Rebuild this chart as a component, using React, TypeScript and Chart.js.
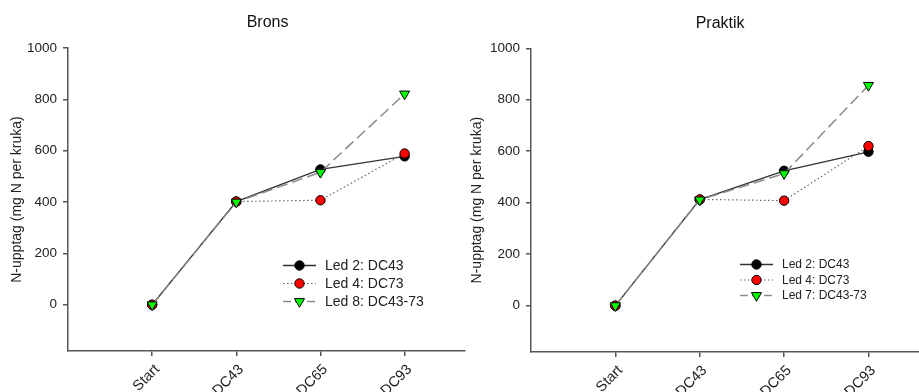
import React, { useEffect, useRef } from "react";
import { Chart, registerables } from "chart.js";

Chart.register(...registerables);

const CATEGORIES = ["Start", "DC43", "DC65", "DC93"];
const Y_TICKS = [0, 200, 400, 600, 800, 1000];

const BRONS_LED2 = [0, 402, 527, 578];
const BRONS_LED4 = [0, 402, 407, 589];
const BRONS_LED8 = [0, 400, 516, 821];

const PRAKTIK_LED2 = [0, 412, 524, 598];
const PRAKTIK_LED4 = [0, 413, 408, 620];
const PRAKTIK_LED7 = [0, 411, 513, 856];

const LEFT_LABELS = ["Led 2: DC43", "Led 4: DC73", "Led 8: DC43-73"];
const RIGHT_LABELS = ["Led 2: DC43", "Led 4: DC73", "Led 7: DC43-73"];

const FONT = "'Liberation Sans', Arial, sans-serif";

type LegendCfg = { x1: number; x2: number; textX: number; rows: number[]; size: number; titleShift: number };

const STYLES = [
  { line: "#333333", dash: [] as number[], width: 1.3, fill: "#000000", shape: "circle" },
  { line: "#6a6a6a", dash: [1.5, 2.5], width: 1.2, fill: "#ff0000", shape: "circle" },
  { line: "#8a8a8a", dash: [11, 5], width: 1.5, fill: "#00ff00", shape: "triangle" },
];

function drawMarker(ctx: CanvasRenderingContext2D, shape: string, x: number, y: number, fill: string) {
  ctx.save();
  ctx.setLineDash([]);
  ctx.fillStyle = fill;
  ctx.strokeStyle = "#000";
  ctx.lineWidth = 1;
  ctx.beginPath();
  if (shape === "circle") {
    ctx.arc(x, y, 4.7, 0, Math.PI * 2);
  } else {
    const r = 5.8;
    ctx.moveTo(x, y + r);
    ctx.lineTo(x - r * Math.sin(Math.PI / 3), y - r / 2);
    ctx.lineTo(x + r * Math.sin(Math.PI / 3), y - r / 2);
    ctx.closePath();
  }
  ctx.fill();
  ctx.stroke();
  ctx.restore();
}

const legendPlugin = {
  id: "insideLegend",
  afterLayout(chart: any) {
    const cfg: LegendCfg = chart.options.plugins.insideLegend;
    const t = chart.titleBlock;
    if (cfg && t && cfg.titleShift) {
      t.left += cfg.titleShift;
      t.right += cfg.titleShift;
    }
  },
  afterDatasetsDraw(chart: any) {
    const cfg: LegendCfg = chart.options.plugins.insideLegend;
    if (!cfg) return;
    const ctx: CanvasRenderingContext2D = chart.ctx;
    chart.data.datasets.forEach((ds: any, i: number) => {
      const st = STYLES[i];
      const y = cfg.rows[i];
      ctx.save();
      ctx.strokeStyle = st.line;
      ctx.lineWidth = st.width;
      ctx.setLineDash(i === 2 ? [8, 4] : st.dash);
      ctx.beginPath();
      ctx.moveTo(cfg.x1, y);
      ctx.lineTo(cfg.x2, y);
      ctx.stroke();
      ctx.restore();
      drawMarker(ctx, st.shape, (cfg.x1 + cfg.x2) / 2, y, st.fill);
      ctx.save();
      ctx.fillStyle = "#222";
      ctx.font = `${cfg.size}px ${FONT}`;
      ctx.textBaseline = "middle";
      ctx.textAlign = "left";
      ctx.fillText(ds.label, cfg.textX, y + 0.5);
      ctx.restore();
    });
  },
};

function makeConfig(
  title: string,
  series: number[][],
  labels: string[],
  geo: { yWidth: number; xHeight: number; titleTop: number; titleBottom: number; yTitlePad: number; xMax: number },
  legend: LegendCfg
): any {
  const datasets = series.map((vals, i) => {
    const st = STYLES[i];
    return {
      label: labels[i],
      data: vals.map((v, j) => ({ x: j, y: v })),
      borderColor: st.line,
      borderWidth: st.width,
      borderDash: st.dash,
      backgroundColor: st.fill,
      pointBackgroundColor: st.fill,
      pointBorderColor: "#000",
      pointBorderWidth: 1,
      pointStyle: st.shape,
      pointRadius: st.shape === "triangle" ? 5.8 : 4.7,
      pointRotation: st.shape === "triangle" ? 180 : 0,
      tension: 0,
      fill: false,
      order: 2 - i,
    };
  });
  return {
    type: "line",
    data: { datasets },
    plugins: [legendPlugin],
    options: {
      animation: false,
      responsive: false,
      events: [],
      layout: { padding: 0 },
      plugins: {
        legend: { display: false },
        tooltip: { enabled: false },
        title: {
          display: true,
          text: title,
          fullSize: false,
          color: "#111",
          font: { family: FONT, size: 16, weight: "normal", lineHeight: 1.2 },
          padding: { top: geo.titleTop, bottom: geo.titleBottom },
        },
        insideLegend: legend,
      },
      scales: {
        x: {
          type: "linear",
          min: -1,
          max: geo.xMax,
          afterBuildTicks: (scale: any) => {
            scale.ticks = CATEGORIES.map((_, i) => ({ value: i }));
          },
          afterFit: (scale: any) => {
            scale.height = geo.xHeight;
          },
          ticks: {
            autoSkip: false,
            minRotation: 45,
            maxRotation: 45,
            color: "#222",
            font: { family: FONT, size: 14.5 },
            padding: 5,
            labelOffset: 5,
            callback: (v: number) => CATEGORIES[Math.round(v)] ?? "",
          },
          grid: {
            display: true,
            drawOnChartArea: false,
            drawTicks: true,
            tickLength: 5,
            color: "#555",
            lineWidth: 1.5,
          },
          border: { display: true, color: "#555", width: 1.5 },
        },
        y: {
          type: "linear",
          min: -180,
          max: 1000,
          afterBuildTicks: (scale: any) => {
            scale.ticks = Y_TICKS.map((v) => ({ value: v }));
          },
          afterFit: (scale: any) => {
            scale.width = geo.yWidth;
          },
          ticks: {
            color: "#222",
            font: { family: FONT, size: 13.5 },
            padding: 6,
            callback: (v: number) => String(v),
          },
          grid: {
            display: true,
            drawOnChartArea: false,
            drawTicks: true,
            tickLength: 5,
            color: "#555",
            lineWidth: 1.5,
          },
          border: { display: true, color: "#555", width: 1.5 },
          title: {
            display: true,
            text: "N-upptag (mg N per kruka)",
            color: "#222",
            font: { family: FONT, size: 14, lineHeight: 1.2 },
            padding: { top: geo.yTitlePad, bottom: 0 },
          },
        },
      },
    },
  };
}

function Panel(props: { left: number; width: number; canvasWidth: number; config: any }) {
  const ref = useRef<HTMLCanvasElement | null>(null);
  useEffect(() => {
    if (!ref.current) return;
    const chart = new Chart(ref.current, props.config);
    return () => chart.destroy();
  }, []);
  return (
    <div style={{ position: "absolute", left: props.left, top: 0, width: props.width, height: 392, overflow: "hidden" }}>
      <canvas ref={ref} width={props.canvasWidth} height={392} style={{ display: "block" }} />
    </div>
  );
}

export default function App() {
  const leftCfg = makeConfig(
    "Brons",
    [BRONS_LED2, BRONS_LED4, BRONS_LED8],
    LEFT_LABELS,
    { yWidth: 68, xHeight: 41, titleTop: 13, titleBottom: 15.8, yTitlePad: 9, xMax: 3.72 },
    { x1: 283, x2: 316, textX: 325, rows: [265.5, 283.5, 301.5], size: 14, titleShift: 1 }
  );
  const rightCfg = makeConfig(
    "Praktik",
    [PRAKTIK_LED2, PRAKTIK_LED4, PRAKTIK_LED7],
    RIGHT_LABELS,
    { yWidth: 65, xHeight: 40, titleTop: 13.7, titleBottom: 15.4, yTitlePad: 2.3, xMax: 3.72 },
    { x1: 274, x2: 307, textX: 316, rows: [264.5, 280, 295.5], size: 12, titleShift: -10 }
  );
  return (
    <div style={{ position: "fixed", left: 0, top: 0, width: 919, height: 392, background: "#fff", overflow: "hidden" }}>
      <Panel left={0} width={466} canvasWidth={472} config={leftCfg} />
      <Panel left={466} width={453} canvasWidth={470} config={rightCfg} />
    </div>
  );
}
